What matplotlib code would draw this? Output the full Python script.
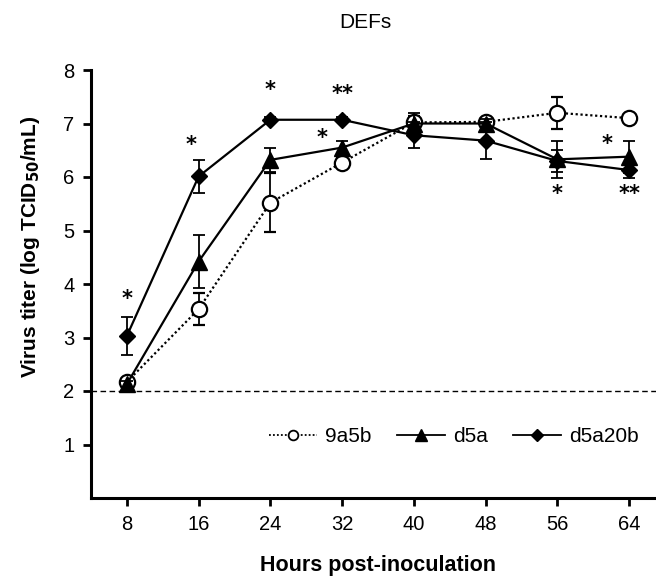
import matplotlib
matplotlib.use("Agg")
import matplotlib.pyplot as plt
from matplotlib.lines import Line2D

plt.rcParams['font.family'] = ['Liberation Sans', 'DejaVu Sans']

hours = [8, 16, 24, 32, 40, 48, 56, 64]
v_9a5b = [2.17, 3.53, 5.52, 6.27, 7.02, 7.03, 7.2, 7.1]
e_9a5b = [0.08, 0.3, 0.55, 0.08, 0.12, 0.06, 0.3, 0.05]
v_d5a = [2.13, 4.42, 6.32, 6.55, 7.0, 7.0, 6.33, 6.38]
e_d5a = [0.06, 0.5, 0.23, 0.12, 0.2, 0.08, 0.35, 0.3]
v_d5a20b = [3.03, 6.01, 7.07, 7.07, 6.78, 6.68, 6.3, 6.13]
e_d5a20b = [0.35, 0.3, 0.05, 0.05, 0.24, 0.35, 0.2, 0.15]
labels = ["9a5b", "d5a", "d5a20b"]

# significance annotations: (hour, y, text)
stars_x = [8, 16, 24, 32, 31, 56, 63, 64]
stars_y = [3.72, 6.6, 7.62, 7.56, 6.72, 5.68, 6.62, 5.68]
stars_t = ["*", "*", "*", "**", "*", "*", "*", "**"]
stars_dx = [0, -0.8, 0, 0, -1.2, 0, -1.5, 0]

fig = plt.figure(figsize=(6.56, 5.84), dpi=100)
ax = fig.add_axes([91/656, 86/584, 565/656, 428/584])

lw = 1.6
ax.axhline(2, color='black', lw=1.0, ls=(0, (4, 2.5)), zorder=1)

ax.errorbar(hours, v_9a5b, yerr=e_9a5b, color='black', lw=lw, ls=(0, (1, 1.2)),
            marker='o', ms=11, mfc='white', mec='black', mew=1.6,
            ecolor='black', elinewidth=1.3, capsize=4, capthick=1.3, zorder=3)
ax.errorbar(hours, v_d5a, yerr=e_d5a, color='black', lw=lw, ls='-',
            marker='^', ms=12, mfc='black', mec='black',
            ecolor='black', elinewidth=1.3, capsize=4, capthick=1.3, zorder=4)
ax.errorbar(hours, v_d5a20b, yerr=e_d5a20b, color='black', lw=lw, ls='-',
            marker='D', ms=8.5, mfc='black', mec='black',
            ecolor='black', elinewidth=1.3, capsize=4, capthick=1.3, zorder=5)

for x, y, t, dx in zip(stars_x, stars_y, stars_t, stars_dx):
    ax.text(x + dx, y, t, ha='center', va='center', fontsize=15,
            fontweight='bold', family=['DejaVu Sans'])

ax.set_xlim(4, 67)
ax.set_ylim(0, 8)
ax.set_xticks(hours)
ax.set_yticks([1, 2, 3, 4, 5, 6, 7, 8])
ax.tick_params(axis='both', direction='out', length=6, width=2, labelsize=14.5, pad=6)
for s in ['top', 'right']:
    ax.spines[s].set_visible(False)
for s in ['left', 'bottom']:
    ax.spines[s].set_linewidth(2.2)

ax.set_xlabel("Hours post-inoculation", fontsize=15.5, fontweight='bold', va='center')
ax.xaxis.set_label_coords((378 - 91) / 565, -(566 - 498) / 428)
ax.set_ylabel("Virus titer (log TCID$_{\\mathbf{50}}$/mL)", fontsize=15, fontweight='bold', va='center')
ax.yaxis.set_label_coords(-(91 - 30) / 565, (498 - 247) / 428)
fig.text(365 / 656, 1 - 22 / 584, "DEFs", ha='center', va='center', fontsize=15)

handles = [
    Line2D([], [], color='black', lw=1.3, ls=(0, (1, 1.2)), marker='o', ms=7, mfc='white', mec='black', mew=1.3),
    Line2D([], [], color='black', lw=1.3, ls='-', marker='^', ms=8, mfc='black'),
    Line2D([], [], color='black', lw=1.3, ls='-', marker='D', ms=6, mfc='black'),
]
ax.legend(handles, labels, loc='center', bbox_to_anchor=((454 - 91) / 565, (498 - 437) / 428), ncol=3,
          frameon=False, fontsize=15, handlelength=2.3, columnspacing=1.2, handletextpad=0.4,
          borderpad=0, borderaxespad=0)

fig.savefig("out.png", dpi=100)
